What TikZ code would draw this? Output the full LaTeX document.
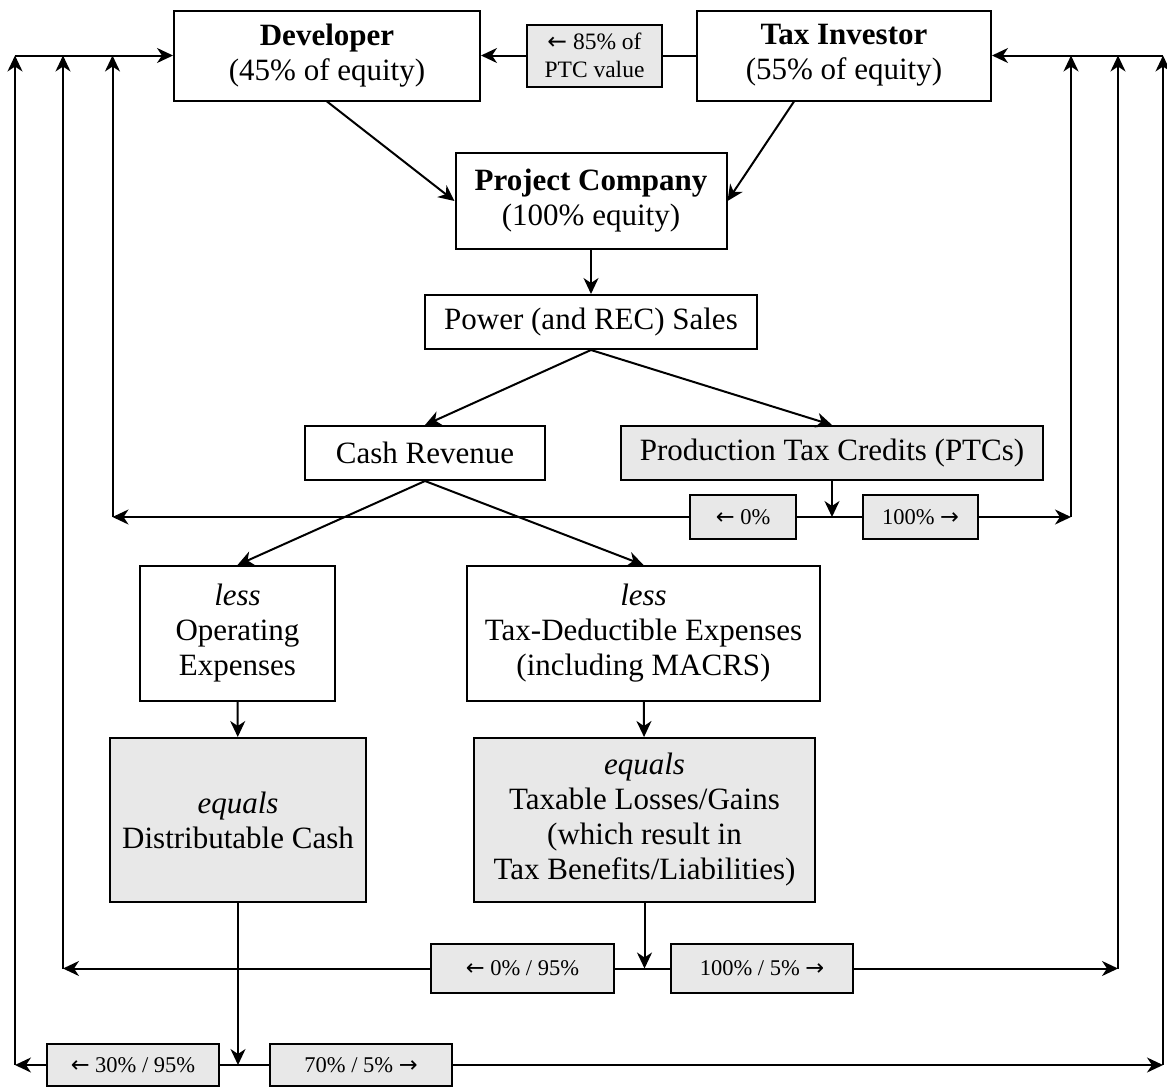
\documentclass[tikz,border=0pt]{standalone}
\usepackage{fontspec}
\setmainfont{Liberation Serif}
\newfontfamily\arrowfont{DejaVu Sans}
\newcommand{\lto}{{\arrowfont ←}}
\newcommand{\rto}{{\arrowfont →}}
\usetikzlibrary{arrows.meta}

\begin{document}
\begin{tikzpicture}[x=1pt,y=-1pt,
  box/.style={draw,line width=2pt,align=center,inner sep=2pt,font=\fontsize{31}{35}\selectfont},
  shaded/.style={box,fill=black!9},
  share/.style={draw,line width=2pt,fill=black!9,align=center,inner sep=2pt,font=\fontsize{22.5}{27}\selectfont},
  flow/.style={line width=2pt,-{Stealth[length=16pt,width=15pt,inset=5pt]}},
  link/.style={line width=2pt}]
\useasboundingbox (0,0) rectangle (1167,1087);

% owners and project
\node[box,minimum width=306pt,minimum height=90pt] (dev) at (327,55.5) {\textbf{Developer}\\(45\% of equity)};
\node[box,minimum width=294pt,minimum height=90pt] (inv) at (844,55.5) {\textbf{Tax Investor}\\(55\% of equity)};
\node[share,minimum width=135pt,minimum height=62pt,font=\fontsize{23.5}{28}\selectfont] (ptcval) at (594.5,55.5) {\lto{} 85\% of\\PTC value};
\node[box,minimum width=271pt,minimum height=96pt] (pc) at (591,201) {\textbf{Project Company}\\(100\% equity)};
\node[box,minimum width=332pt,minimum height=54pt] (sales) at (591,322) {Power (and REC) Sales};
\node[box,minimum width=240pt,minimum height=54pt] (cash) at (425,453) {Cash Revenue};
\node[shaded,minimum width=422pt,minimum height=54pt] (ptc) at (832,453) {Production Tax Credits (PTCs)};
\node[share,minimum width=106pt,minimum height=44pt] (ptcL) at (743,517) {\lto{} 0\%};
\node[share,minimum width=115pt,minimum height=44pt] (ptcR) at (920.5,517) {100\% \rto};
\node[box,minimum width=195pt,minimum height=135pt] (opex) at (237.5,633.5) {\textit{less}\\Operating\\Expenses};
\node[box,minimum width=353pt,minimum height=135pt] (taxex) at (643.5,633.5) {\textit{less}\\Tax-Deductible Expenses\\(including MACRS)};
\node[shaded,minimum width=256pt,minimum height=164pt] (dist) at (238,820) {\textit{equals}\\Distributable Cash};
\node[shaded,minimum width=341pt,minimum height=164pt] (taxable) at (644.5,820) {\textit{equals}\\Taxable Losses/Gains\\(which result in\\Tax Benefits/Liabilities)};
\node[share,minimum width=183pt,minimum height=49pt] (taxL) at (522.5,968.5) {\lto{} 0\% / 95\%};
\node[share,minimum width=182pt,minimum height=49pt] (taxR) at (762,968.5) {100\% / 5\% \rto};
\node[share,minimum width=172pt,minimum height=42pt] (cashL) at (133,1065) {\lto{} 30\% / 95\%};
\node[share,minimum width=182pt,minimum height=42pt] (cashR) at (361,1065) {70\% / 5\% \rto};

% split points and corners
\coordinate (invout) at ([xshift=-50pt]inv.south);
\coordinate (ptcM) at (ptc.south |- ptcL.center);
\coordinate (taxM) at (taxable.south |- taxL.center);
\coordinate (cashM) at (dist.south |- cashL.center);
\coordinate (l1) at (112.5,517);
\coordinate (l2) at (63,968.5);
\coordinate (l3) at (15,1065);
\coordinate (r1) at (1071,517);
\coordinate (r2) at (1118,968.5);
\coordinate (r3) at (1163,1065);

% equity and cash flow down
\draw[flow] (dev.south) -- (pc.west);
\draw[flow] (invout) -- (pc.east);
\draw[link] (inv.west) -- (ptcval.east);
\draw[flow] (ptcval.west) -- (dev.east);
\draw[flow] (pc) -- (sales);
\draw[flow] (sales.south) -- (cash.north);
\draw[flow] (sales.south) -- (ptc.north);
\draw[flow] (cash.south) -- (opex.north);
\draw[flow] (cash.south) -- (taxex.north);
\draw[flow] (opex) -- (dist);
\draw[flow] (taxex) -- (taxable);

% PTC split
\draw[flow] (ptc.south) -- (ptcM);
\draw[link] (ptcM) -- (ptcL.east);
\draw[flow] (ptcL.west) -- (l1);
\draw[flow] (l1) -- (l1 |- dev.west);
\draw[link] (ptcM) -- (ptcR.west);
\draw[flow] (ptcR.east) -- (r1);
\draw[flow] (r1) -- (r1 |- inv.east);

% tax split
\draw[flow] (taxable.south) -- (taxM);
\draw[link] (taxM) -- (taxL.east);
\draw[flow] (taxL.west) -- (l2);
\draw[flow] (l2) -- (l2 |- dev.west);
\draw[link] (taxM) -- (taxR.west);
\draw[flow] (taxR.east) -- (r2);
\draw[flow] (r2) -- (r2 |- inv.east);

% cash split
\draw[flow] (dist.south) -- (cashM);
\draw[link] (cashM) -- (cashL.east);
\draw[flow] (cashL.west) -- (l3);
\draw[flow] (l3) -- (l3 |- dev.west);
\draw[link] (cashM) -- (cashR.west);
\draw[flow] (cashR.east) -- (r3);
\draw[flow] (r3) -- (r3 |- inv.east);

% back to the owners
\draw[flow] (l3 |- dev.west) -- (dev.west);
\draw[flow] (r3 |- inv.east) -- (inv.east);
\end{tikzpicture}
\end{document}
